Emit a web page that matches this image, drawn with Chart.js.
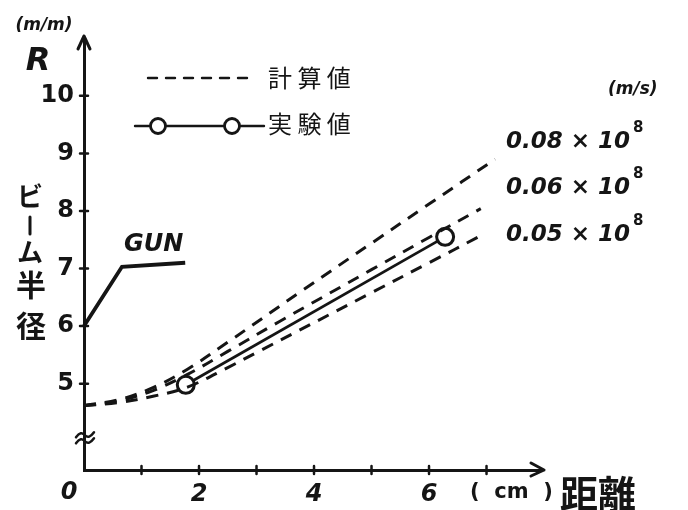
<!DOCTYPE html>
<html>
<head>
<meta charset="utf-8">
<script src="https://cdn.jsdelivr.net/npm/chart.js@4"></script>
<style>
  html, body { margin: 0; padding: 0; background: #fff; }
  #wrap { width: 688px; height: 510px; }
</style>
</head>
<body>
<div id="wrap"><canvas id="c" width="688" height="510"></canvas></div>
<script>
// ビーム半径 R (mm) vs 距離 (cm)

// x / y ticks
const xTicks = [0, 1, 2, 3, 4, 5, 6, 7];
const xLabels = [2, 4, 6];
const yTicks = [5, 6, 7, 8, 9, 10];

// 計算値 0.08 x 10^8 m/s
const dist08 = [0, 0.6, 1.2, 1.8, 2.5, 3.8, 5.0, 6.0, 7.15];
const r08    = [4.62, 4.72, 4.93, 5.25, 5.72, 6.62, 7.44, 8.12, 8.9];

// 計算値 0.06 x 10^8 m/s
const dist06 = [0, 0.6, 1.2, 1.8, 2.5, 3.4, 5.0, 6.0, 6.9];
const r06    = [4.62, 4.7, 4.88, 5.16, 5.56, 6.08, 6.98, 7.54, 8.04];

// 計算値 0.05 x 10^8 m/s
const dist05 = [0, 0.6, 1.2, 1.8, 2.5, 3.0, 5.0, 6.0, 6.92];
const r05    = [4.62, 4.67, 4.78, 4.94, 5.28, 5.54, 6.58, 7.1, 7.58];

// 実験値
const distExp = [1.77, 6.28];
const rExp    = [4.98, 7.55];

// GUN leader line
const distGun = [0, 0.66, 1.76];
const rGun    = [6.0, 7.03, 7.1];

const speedLabels = ["0.08", "0.06", "0.05"];

const INK = "#151515";
const pts = (xs, ys) => xs.map((x, i) => ({ x, y: ys[i] }));

const dashed = (data) => ({
  data, showLine: true, borderColor: INK, borderWidth: 3,
  borderDash: [12, 9], pointRadius: 0, tension: 0.35, clip: false,
});

const extras = {
  id: "extras",
  afterDraw(chart) {
    const { ctx, chartArea: a } = chart;
    const { x: sx, y: sy } = chart.scales;
    ctx.save();
    ctx.strokeStyle = INK;
    ctx.fillStyle = INK;
    ctx.lineCap = "round";
    ctx.lineJoin = "round";

    // axis arrows
    ctx.lineWidth = 3;
    ctx.beginPath();
    ctx.moveTo(a.left, a.top); ctx.lineTo(a.left, a.top - 4);
    ctx.moveTo(a.left - 6, a.top + 9); ctx.lineTo(a.left, a.top - 4); ctx.lineTo(a.left + 6, a.top + 9);
    ctx.moveTo(a.right, a.bottom); ctx.lineTo(a.right + 4, a.bottom);
    ctx.moveTo(a.right - 9, a.bottom - 7); ctx.lineTo(a.right + 4, a.bottom); ctx.lineTo(a.right - 9, a.bottom + 6);
    ctx.stroke();

    // tick marks crossing the axes
    ctx.lineWidth = 2.5;
    ctx.beginPath();
    for (const v of yTicks) {
      const p = sy.getPixelForValue(v);
      ctx.moveTo(a.left - 4, p); ctx.lineTo(a.left + 4, p);
    }
    for (const v of xTicks.slice(1)) {
      const p = sx.getPixelForValue(v);
      ctx.moveTo(p, a.bottom - 4); ctx.lineTo(p, a.bottom + 4);
    }
    ctx.stroke();

    // break mark on y axis
    const yb = sy.getPixelForValue(4.05);
    ctx.lineWidth = 2.5;
    for (const off of [-3, 3]) {
      ctx.beginPath();
      ctx.moveTo(a.left - 8, yb + off + 2);
      ctx.quadraticCurveTo(a.left - 3, yb + off - 5, a.left + 1, yb + off);
      ctx.quadraticCurveTo(a.left + 5, yb + off + 4, a.left + 10, yb + off - 3);
      ctx.stroke();
    }

    ctx.textBaseline = "middle";
    ctx.textAlign = "center";

    // origin
    ctx.font = "italic bold 24px 'DejaVu Sans'";
    ctx.fillText("0", 69, 493);

    // y title
    ctx.font = "italic bold 17px 'DejaVu Sans'";
    ctx.fillText("(m/m)", 44, 26);
    ctx.font = "italic bold 32px 'DejaVu Sans'";
    ctx.fillText("R", 38, 62);
    ctx.font = "bold 26px 'Noto Sans CJK JP'";
    ctx.fillText("ビ", 30, 196);
    ctx.fillText("ム", 30, 252);
    ctx.font = "bold 30px 'Noto Sans CJK JP'";
    ctx.fillText("半", 31, 285);
    ctx.fillText("径", 31, 326);
    ctx.lineWidth = 3;
    ctx.beginPath();
    ctx.moveTo(30, 217); ctx.lineTo(30, 234);
    ctx.stroke();

    // x title
    ctx.font = "bold 21px 'DejaVu Sans'";
    ctx.textAlign = "left";
    ctx.fillText("(  cm  )", 470, 493);
    ctx.font = "bold 38px 'Noto Sans CJK JP'";
    ctx.fillText("距離", 560, 494);

    // legend
    ctx.lineWidth = 2.4;
    ctx.setLineDash([9, 9]);
    ctx.beginPath();
    ctx.moveTo(148, 78); ctx.lineTo(256, 78);
    ctx.stroke();
    ctx.setLineDash([]);
    ctx.beginPath();
    ctx.moveTo(135, 126); ctx.lineTo(264, 126);
    ctx.stroke();
    for (const cx of [158, 232]) {
      ctx.beginPath();
      ctx.arc(cx, 126, 7.5, 0, Math.PI * 2);
      ctx.fillStyle = "#fff";
      ctx.fill();
      ctx.lineWidth = 2.8;
      ctx.stroke();
    }
    ctx.fillStyle = INK;
    ctx.font = "24px 'Noto Sans CJK JP'";
    ctx.fillText("計 算 値", 268, 78);
    ctx.fillText("実 験 値", 268, 124);

    // speeds
    ctx.font = "italic bold 17px 'DejaVu Sans'";
    ctx.fillText("(m/s)", 608, 90);
    const ly = [142, 188, 235];
    speedLabels.forEach((s, i) => {
      ctx.font = "italic bold 23px 'DejaVu Sans'";
      const t = s + " × 10";
      ctx.fillText(t, 506, ly[i]);
      const w = ctx.measureText(t).width;
      ctx.font = "bold 15px 'DejaVu Sans'";
      ctx.fillText("8", 506 + w + 3, ly[i] - 14);
    });

    // GUN
    ctx.font = "italic bold 24px 'DejaVu Sans'";
    ctx.fillText("GUN", 124, 245);

    ctx.restore();
  },
};

new Chart(document.getElementById("c"), {
  type: "scatter",
  data: {
    datasets: [
      dashed(pts(dist08, r08)),
      dashed(pts(dist06, r06)),
      dashed(pts(dist05, r05)),
      {
        data: pts(distExp, rExp), showLine: true, borderColor: INK, borderWidth: 2.8,
        pointRadius: 8.5, pointBorderWidth: 3, pointBackgroundColor: "#fff",
        pointBorderColor: INK, clip: false,
      },
      {
        data: pts(distGun, rGun), showLine: true, borderColor: INK, borderWidth: 3.8,
        pointRadius: 0, clip: false,
      },
    ],
  },
  options: {
    responsive: false,
    animation: false,
    events: [],
    layout: { padding: { left: 0, top: 40, right: 148, bottom: 0 } },
    plugins: { legend: { display: false }, tooltip: { enabled: false } },
    scales: {
      x: {
        type: "linear", min: 0, max: 7.93,
        afterBuildTicks: (ax) => { ax.ticks = xTicks.map(v => ({ value: v })); },
        afterFit: (ax) => { ax.height = 40; },
        border: { color: INK, width: 3 },
        grid: { drawOnChartArea: false, drawTicks: false },
        ticks: {
          padding: 10, color: INK, maxRotation: 0, autoSkip: false,
          font: { family: "DejaVu Sans", size: 24, weight: "bold", style: "italic" },
          callback: (v) => (xLabels.includes(v) ? String(v) : ""),
        },
      },
      y: {
        type: "linear", min: 3.5, max: 10.97,
        afterBuildTicks: (ax) => { ax.ticks = yTicks.map(v => ({ value: v })); },
        afterFit: (ax) => { ax.width = 84; },
        border: { color: INK, width: 3 },
        grid: { drawOnChartArea: false, drawTicks: false },
        ticks: {
          padding: 10, color: INK,
          font: { family: "DejaVu Sans", size: 24, weight: "bold" },
        },
      },
    },
  },
  plugins: [extras],
});
</script>
</body>
</html>
